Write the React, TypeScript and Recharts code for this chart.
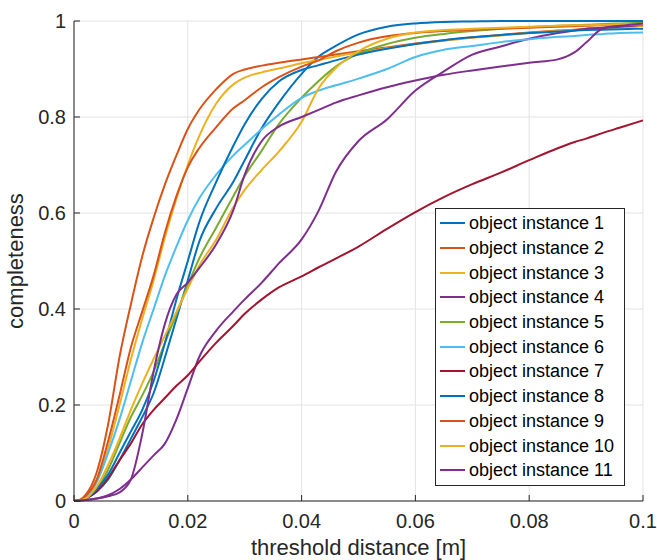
import React from 'react'
import {
  LineChart, Line, XAxis, YAxis, CartesianGrid, Legend, Label,
} from 'recharts'

// ---------------------------------------------------------------------------
// Data
// ---------------------------------------------------------------------------

const thresholds = [
  0, 0.001, 0.002, 0.004, 0.006, 0.008, 0.01, 0.012, 0.014, 0.016, 0.018, 0.02,
  0.022, 0.025, 0.028, 0.03, 0.033, 0.036, 0.04, 0.043, 0.046, 0.05, 0.055, 0.06,
  0.065, 0.07, 0.075, 0.08, 0.085, 0.088, 0.09, 0.093, 0.096, 0.1,
]

const instance1 = [0, 0.001, 0.005, 0.02, 0.045, 0.085, 0.13, 0.175, 0.225, 0.3, 0.38, 0.46, 0.54, 0.61, 0.665, 0.71, 0.777, 0.83, 0.89, 0.926, 0.948, 0.972, 0.988, 0.995, 0.998, 0.999, 1, 1, 1, 1, 1, 1, 1, 1]
const instance2 = [0, 0.002, 0.012, 0.06, 0.16, 0.3, 0.41, 0.51, 0.59, 0.66, 0.72, 0.775, 0.815, 0.858, 0.89, 0.899, 0.907, 0.913, 0.92, 0.925, 0.93, 0.937, 0.945, 0.953, 0.96, 0.966, 0.971, 0.976, 0.98, 0.982, 0.984, 0.986, 0.988, 0.99]
const instance3 = [0, 0.002, 0.008, 0.04, 0.11, 0.2, 0.295, 0.38, 0.46, 0.55, 0.63, 0.7, 0.76, 0.828, 0.868, 0.882, 0.893, 0.901, 0.912, 0.919, 0.926, 0.934, 0.943, 0.952, 0.959, 0.965, 0.97, 0.975, 0.979, 0.981, 0.983, 0.985, 0.987, 0.99]
const instance4 = [0, 0.001, 0.002, 0.005, 0.012, 0.025, 0.045, 0.07, 0.095, 0.12, 0.17, 0.235, 0.3, 0.355, 0.395, 0.42, 0.455, 0.495, 0.545, 0.605, 0.685, 0.75, 0.795, 0.855, 0.895, 0.93, 0.947, 0.963, 0.975, 0.98, 0.984, 0.986, 0.988, 0.992]
const instance5 = [0, 0.001, 0.005, 0.025, 0.065, 0.12, 0.175, 0.22, 0.27, 0.33, 0.39, 0.45, 0.505, 0.57, 0.635, 0.677, 0.73, 0.785, 0.84, 0.875, 0.905, 0.932, 0.952, 0.965, 0.973, 0.979, 0.984, 0.987, 0.99, 0.991, 0.992, 0.994, 0.995, 0.996]
const instance6 = [0, 0.002, 0.008, 0.04, 0.1, 0.17, 0.25, 0.33, 0.4, 0.47, 0.53, 0.585, 0.63, 0.68, 0.72, 0.742, 0.775, 0.805, 0.84, 0.855, 0.866, 0.88, 0.9, 0.925, 0.94, 0.948, 0.956, 0.962, 0.967, 0.969, 0.971, 0.973, 0.975, 0.976]
const instance7 = [0, 0.001, 0.005, 0.02, 0.048, 0.085, 0.12, 0.16, 0.19, 0.215, 0.24, 0.262, 0.29, 0.33, 0.365, 0.39, 0.42, 0.445, 0.468, 0.487, 0.505, 0.53, 0.567, 0.602, 0.633, 0.66, 0.684, 0.71, 0.735, 0.748, 0.755, 0.767, 0.778, 0.793]
const instance8 = [0, 0.001, 0.005, 0.025, 0.055, 0.1, 0.145, 0.19, 0.25, 0.33, 0.42, 0.5, 0.58, 0.665, 0.74, 0.785, 0.838, 0.874, 0.898, 0.908, 0.918, 0.93, 0.942, 0.952, 0.96, 0.966, 0.971, 0.975, 0.978, 0.98, 0.981, 0.982, 0.983, 0.984]
const instance9 = [0, 0.002, 0.01, 0.045, 0.125, 0.22, 0.32, 0.395, 0.47, 0.56, 0.635, 0.695, 0.735, 0.779, 0.818, 0.835, 0.862, 0.883, 0.905, 0.918, 0.937, 0.955, 0.968, 0.975, 0.979, 0.982, 0.984, 0.986, 0.988, 0.989, 0.99, 0.991, 0.991, 0.992]
const instance10 = [0, 0.001, 0.005, 0.03, 0.075, 0.13, 0.19, 0.245, 0.296, 0.345, 0.394, 0.443, 0.49, 0.545, 0.612, 0.648, 0.69, 0.728, 0.79, 0.86, 0.902, 0.937, 0.963, 0.976, 0.981, 0.984, 0.986, 0.988, 0.99, 0.991, 0.991, 0.992, 0.993, 0.993]
const instance11 = [0, 0.001, 0.002, 0.005, 0.01, 0.018, 0.045, 0.14, 0.27, 0.37, 0.43, 0.455, 0.485, 0.535, 0.606, 0.68, 0.75, 0.78, 0.8, 0.815, 0.83, 0.845, 0.862, 0.876, 0.888, 0.897, 0.905, 0.913, 0.92, 0.935, 0.955, 0.985, 0.99, 0.995]

const xTicks = [0, 0.02, 0.04, 0.06, 0.08, 0.1]
const yTicks = [0, 0.2, 0.4, 0.6, 0.8, 1]

// MATLAB default colour order, repeated after 7
const series = [
  { key: 's1', name: 'object instance 1', color: '#0072BD', values: instance1 },
  { key: 's2', name: 'object instance 2', color: '#D95319', values: instance2 },
  { key: 's3', name: 'object instance 3', color: '#EDB120', values: instance3 },
  { key: 's4', name: 'object instance 4', color: '#7E2F8E', values: instance4 },
  { key: 's5', name: 'object instance 5', color: '#77AC30', values: instance5 },
  { key: 's6', name: 'object instance 6', color: '#4DBEEE', values: instance6 },
  { key: 's7', name: 'object instance 7', color: '#A2142F', values: instance7 },
  { key: 's8', name: 'object instance 8', color: '#0072BD', values: instance8 },
  { key: 's9', name: 'object instance 9', color: '#D95319', values: instance9 },
  { key: 's10', name: 'object instance 10', color: '#EDB120', values: instance10 },
  { key: 's11', name: 'object instance 11', color: '#7E2F8E', values: instance11 },
]

const rows = thresholds.map((t, i) => {
  const row: Record<string, number> = { t }
  series.forEach((s) => { row[s.key] = s.values[i] })
  return row
})

// ---------------------------------------------------------------------------
// Styling
// ---------------------------------------------------------------------------

const FONT = '"Liberation Sans", Arial, Helvetica, sans-serif'
const AXIS = '#262626'
const GRID = '#e3e3e3'
const TICK_LEN = 6

// ---------------------------------------------------------------------------
// Custom ticks (MATLAB style: inward ticks on all four sides)
// ---------------------------------------------------------------------------

function BottomTick({ x, y, payload }: any) {
  return (
    <g>
      <line x1={x} x2={x} y1={y} y2={y - TICK_LEN} stroke={AXIS} />
      <text x={x} y={y + 27} textAnchor="middle" fontSize={20} fontFamily={FONT} fill={AXIS}>
        {String(payload.value)}
      </text>
    </g>
  )
}

function LeftTick({ x, y, payload }: any) {
  return (
    <g>
      <line x1={x} x2={x + TICK_LEN} y1={y} y2={y} stroke={AXIS} />
      <text x={x - 8} y={y + 7} textAnchor="end" fontSize={20} fontFamily={FONT} fill={AXIS}>
        {String(payload.value)}
      </text>
    </g>
  )
}

function TopTick({ x, y }: any) {
  return <line x1={x} x2={x} y1={y} y2={y + TICK_LEN} stroke={AXIS} />
}

function RightTick({ x, y }: any) {
  return <line x1={x} x2={x - TICK_LEN} y1={y} y2={y} stroke={AXIS} />
}

// ---------------------------------------------------------------------------
// Legend box
// ---------------------------------------------------------------------------

function LegendBox() {
  return (
    <div
      style={{
        width: 188,
        border: `1px solid ${AXIS}`,
        background: '#fff',
        padding: '2px 0',
        fontFamily: FONT,
        fontSize: 18,
        color: '#000',
      }}
    >
      {series.map((s) => (
        <div key={s.key} style={{ height: 24.7, display: 'flex', alignItems: 'center' }}>
          <svg width={33} height={10} style={{ flex: 'none' }}>
            <line x1={4} x2={29} y1={5} y2={5} stroke={s.color} strokeWidth={2} />
          </svg>
          <span style={{ whiteSpace: 'nowrap', lineHeight: '20px' }}>{s.name}</span>
        </div>
      ))}
    </div>
  )
}

// ---------------------------------------------------------------------------
// Component
// ---------------------------------------------------------------------------

export default function App() {
  return (
    <div style={{ position: 'absolute', left: 0, top: 0, background: '#fff' }}>
      <LineChart
        width={657}
        height={560}
        data={rows}
        margin={{ top: 21, right: 14, bottom: 0, left: 0 }}
      >
        <CartesianGrid stroke={GRID} strokeWidth={1} />
        <XAxis
          dataKey="t"
          type="number"
          domain={[0, 0.1]}
          ticks={xTicks}
          height={59}
          tickSize={0}
          tickMargin={0}
          tick={<BottomTick />}
          axisLine={{ stroke: AXIS }}
          interval={0}
        >
          <Label
            content={() => (
              <text x={358.5} y={555} textAnchor="middle" fontSize={22} fontFamily={FONT} fill={AXIS}>
                threshold distance [m]
              </text>
            )}
          />
        </XAxis>
        <XAxis
          xAxisId="top"
          orientation="top"
          type="number"
          domain={[0, 0.1]}
          ticks={xTicks}
          height={0}
          tickSize={0}
          tickMargin={0}
          tick={<TopTick />}
          axisLine={{ stroke: AXIS }}
          interval={0}
        />
        <YAxis
          type="number"
          domain={[0, 1]}
          ticks={yTicks}
          width={74}
          tickSize={0}
          tickMargin={0}
          tick={<LeftTick />}
          axisLine={{ stroke: AXIS }}
          interval={0}
        >
          <Label
            content={() => (
              <text
                x={23}
                y={261}
                transform="rotate(-90, 23, 261)"
                textAnchor="middle"
                fontSize={22}
                fontFamily={FONT}
                fill={AXIS}
              >
                completeness
              </text>
            )}
          />
        </YAxis>
        <YAxis
          yAxisId="right"
          orientation="right"
          type="number"
          domain={[0, 1]}
          ticks={yTicks}
          width={0}
          tickSize={0}
          tickMargin={0}
          tick={<RightTick />}
          axisLine={{ stroke: AXIS }}
          interval={0}
        />
        {series.map((s) => (
          <Line
            key={s.key}
            dataKey={s.key}
            name={s.name}
            type="monotone"
            stroke={s.color}
            strokeWidth={2}
            dot={false}
            activeDot={false}
            isAnimationActive={false}
          />
        ))}
        <Legend
          layout="vertical"
          align="center"
          verticalAlign="middle"
          content={<LegendBox />}
          wrapperStyle={{ left: 435, top: 208, width: 190, height: 'auto' }}
        />
      </LineChart>
    </div>
  )
}
